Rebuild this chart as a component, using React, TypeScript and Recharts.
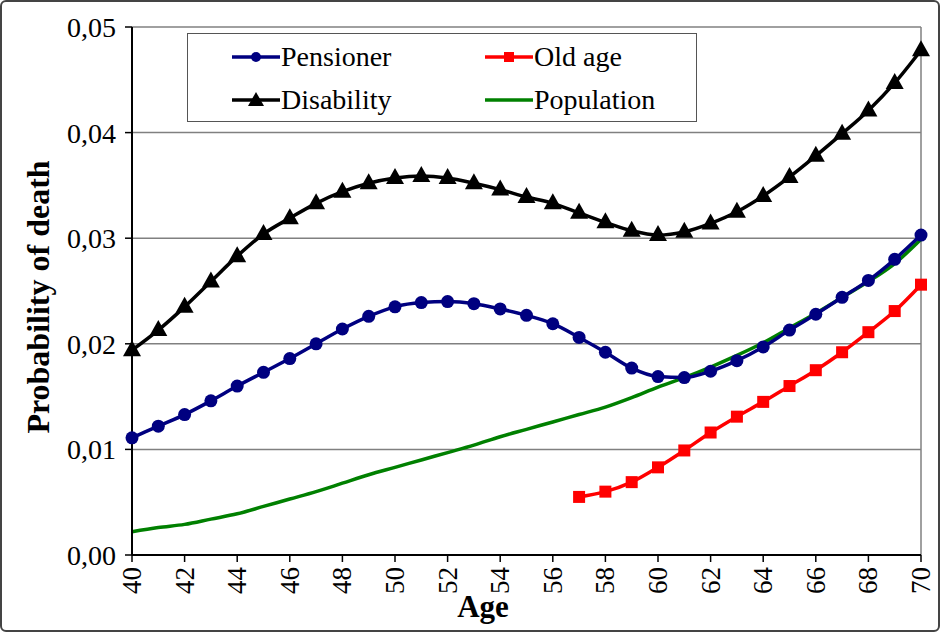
import React from "react"
import { LineChart, Line, XAxis, YAxis, CartesianGrid, ReferenceLine, Legend } from "recharts"

const ages = [40, 41, 42, 43, 44, 45, 46, 47, 48, 49, 50, 51, 52, 53, 54, 55, 56, 57, 58, 59, 60, 61, 62, 63, 64, 65, 66, 67, 68, 69, 70]

const pensioner = [
  0.0111, 0.0122, 0.0133, 0.0146, 0.016, 0.0173, 0.0186, 0.0200, 0.0214, 0.0226, 0.0235,
  0.0239, 0.0240, 0.0238, 0.0233, 0.0227, 0.0219, 0.0206, 0.0192, 0.0177, 0.0169,
  0.0168, 0.0174, 0.0184, 0.0197, 0.0213, 0.0228, 0.0244, 0.0260, 0.0280, 0.0303,
]

// old age series starts at 57
const oldAge = [
  null, null, null, null, null, null, null, null, null, null, null,
  null, null, null, null, null, null, 0.0055, 0.0060, 0.0069, 0.0083,
  0.0099, 0.0116, 0.0131, 0.0145, 0.0160, 0.0175, 0.0192, 0.0211, 0.0231, 0.0256,
]

const disability = [
  0.0194, 0.0213, 0.0235, 0.0259, 0.0283, 0.0304, 0.0319, 0.0333, 0.0344, 0.0352, 0.0357,
  0.0359, 0.0357, 0.0352, 0.0346, 0.0339, 0.0333, 0.0324, 0.0315, 0.0307, 0.0303,
  0.0306, 0.0314, 0.0325, 0.0340, 0.0358, 0.0378, 0.0399, 0.0421, 0.0447, 0.0478,
]

const population = [
  0.0022, 0.0026, 0.0029, 0.0034, 0.0039, 0.0046, 0.0053, 0.0060, 0.0068, 0.0076, 0.0083,
  0.0090, 0.0097, 0.0104, 0.0112, 0.0119, 0.0126, 0.0133, 0.0140, 0.0149, 0.0159,
  0.0168, 0.0178, 0.0189, 0.0201, 0.0215, 0.0229, 0.0244, 0.0259, 0.0276, 0.0299,
]

const xTicks = [40, 42, 44, 46, 48, 50, 52, 54, 56, 58, 60, 62, 64, 66, 68, 70]
const yTicks = [0, 0.01, 0.02, 0.03, 0.04, 0.05]

const data = ages.map((age, i) => ({
  age,
  pensioner: pensioner[i],
  oldAge: oldAge[i],
  disability: disability[i],
  population: population[i],
}))

const FONT = "Liberation Serif, Times New Roman, serif"
const NAVY = "#000080"
const RED = "#ff0000"
const GREEN = "#008000"

const CircleDot = (props: any) => {
  const { cx, cy, index } = props
  if (cx == null || cy == null) return <g key={`c-${index}`} />
  return <circle key={`c-${index}`} cx={cx} cy={cy} r={6.5} fill={NAVY} />
}

const SquareDot = (props: any) => {
  const { cx, cy, index } = props
  if (cx == null || cy == null || props.value == null) return <g key={`s-${index}`} />
  return <rect key={`s-${index}`} x={cx - 6} y={cy - 6} width={12} height={12} fill={RED} />
}

const TriangleDot = (props: any) => {
  const { cx, cy, index } = props
  if (cx == null || cy == null) return <g key={`t-${index}`} />
  return <polygon key={`t-${index}`} points={`${cx},${cy - 10} ${cx - 9},${cy + 6} ${cx + 9},${cy + 6}`} fill="#000" />
}

const XTick = (props: any) => {
  const { x, y, payload } = props
  return (
    <text x={x} y={y} transform={`rotate(-90 ${x} ${y})`} dx={-3} dy={9} textAnchor="end" fontSize={27} fontFamily={FONT} fill="#000">
      {payload.value}
    </text>
  )
}

const legendItems = [
  { name: "Pensioner", color: NAVY, mark: "circle" },
  { name: "Old age", color: RED, mark: "square" },
  { name: "Disability", color: "#000", mark: "triangle" },
  { name: "Population", color: GREEN, mark: "none" },
]

function LegendIcon({ color, mark }: { color: string; mark: string }) {
  return (
    <svg width={48} height={16} style={{ marginRight: 1 }}>
      <line x1={0} y1={8} x2={48} y2={8} stroke={color} strokeWidth={3.5} />
      {mark === "circle" && <circle cx={24} cy={8} r={5} fill={color} />}
      {mark === "square" && <rect x={19} y={3} width={10} height={10} fill={color} />}
      {mark === "triangle" && <polygon points="24,0 16,14 32,14" fill={color} />}
    </svg>
  )
}

function renderLegend() {
  return (
    <div
      style={{
        width: 510,
        height: 89,
        boxSizing: "border-box",
        border: "1.5px solid #555",
        background: "#fff",
        display: "grid",
        gridTemplateColumns: "253px 257px",
        gridTemplateRows: "43px 43px",
        paddingTop: 1,
        fontFamily: FONT,
        fontSize: 28,
        color: "#000",
      }}
    >
      {legendItems.map((it) => (
        <div key={it.name} style={{ display: "flex", alignItems: "center", paddingLeft: 44 }}>
          <LegendIcon color={it.color} mark={it.mark} />
          <span>{it.name}</span>
        </div>
      ))}
    </div>
  )
}

export default function App() {
  return (
    <div style={{ position: "absolute", left: 0, top: 0, width: 940, height: 632, background: "#fff" }}>
      <LineChart width={940} height={632} data={data} margin={{ top: 27, right: 19, bottom: 0, left: 0 }}>
        <CartesianGrid vertical={false} stroke="#808080" strokeWidth={1.5} />
        <XAxis
          dataKey="age"
          type="number"
          domain={[40, 70]}
          ticks={xTicks}
          interval={0}
          height={77}
          tick={<XTick />}
          tickSize={7}
          axisLine={{ stroke: "#000", strokeWidth: 2 }}
          tickLine={{ stroke: "#000", strokeWidth: 1.5 }}
          label={() => (
            <text x={483} y={617} textAnchor="middle" fontSize={31} fontWeight="bold" fontFamily={FONT} fill="#000">
              Age
            </text>
          )}
        />
        <YAxis
          type="number"
          domain={[0, 0.05]}
          ticks={yTicks}
          width={132}
          tickSize={7}
          tickMargin={9}
          tickFormatter={(v: number) => v.toFixed(2).replace(".", ",")}
          tick={{ fontSize: 28, fontFamily: FONT, fill: "#000" }}
          axisLine={{ stroke: "#000", strokeWidth: 2 }}
          tickLine={{ stroke: "#000", strokeWidth: 1.5 }}
          label={() => (
            <text x={38} y={297} transform="rotate(-90 38 297)" textAnchor="middle" dominantBaseline="central" fontSize={32} fontWeight="bold" fontFamily={FONT} fill="#000">
              Probability of death
            </text>
          )}
        />
        <ReferenceLine x={70} stroke="#808080" strokeWidth={1.5} />
        <Legend
          layout="horizontal"
          verticalAlign="middle"
          align="center"
          content={renderLegend}
          wrapperStyle={{ left: 187, top: 33, width: 510, height: 89 }}
        />
        <Line type="monotone" dataKey="population" stroke={GREEN} strokeWidth={3.5} dot={false} isAnimationActive={false} />
        <Line type="monotone" dataKey="oldAge" stroke={RED} strokeWidth={3.5} dot={<SquareDot />} isAnimationActive={false} />
        <Line type="monotone" dataKey="pensioner" stroke={NAVY} strokeWidth={3.5} dot={<CircleDot />} isAnimationActive={false} />
        <Line type="monotone" dataKey="disability" stroke="#000" strokeWidth={3.5} dot={<TriangleDot />} isAnimationActive={false} />
      </LineChart>
      <div
        style={{
          position: "absolute",
          left: 0,
          top: 0,
          width: 940,
          height: 632,
          boxSizing: "border-box",
          border: "2px solid #444",
          borderRadius: 6,
          pointerEvents: "none",
        }}
      />
    </div>
  )
}
